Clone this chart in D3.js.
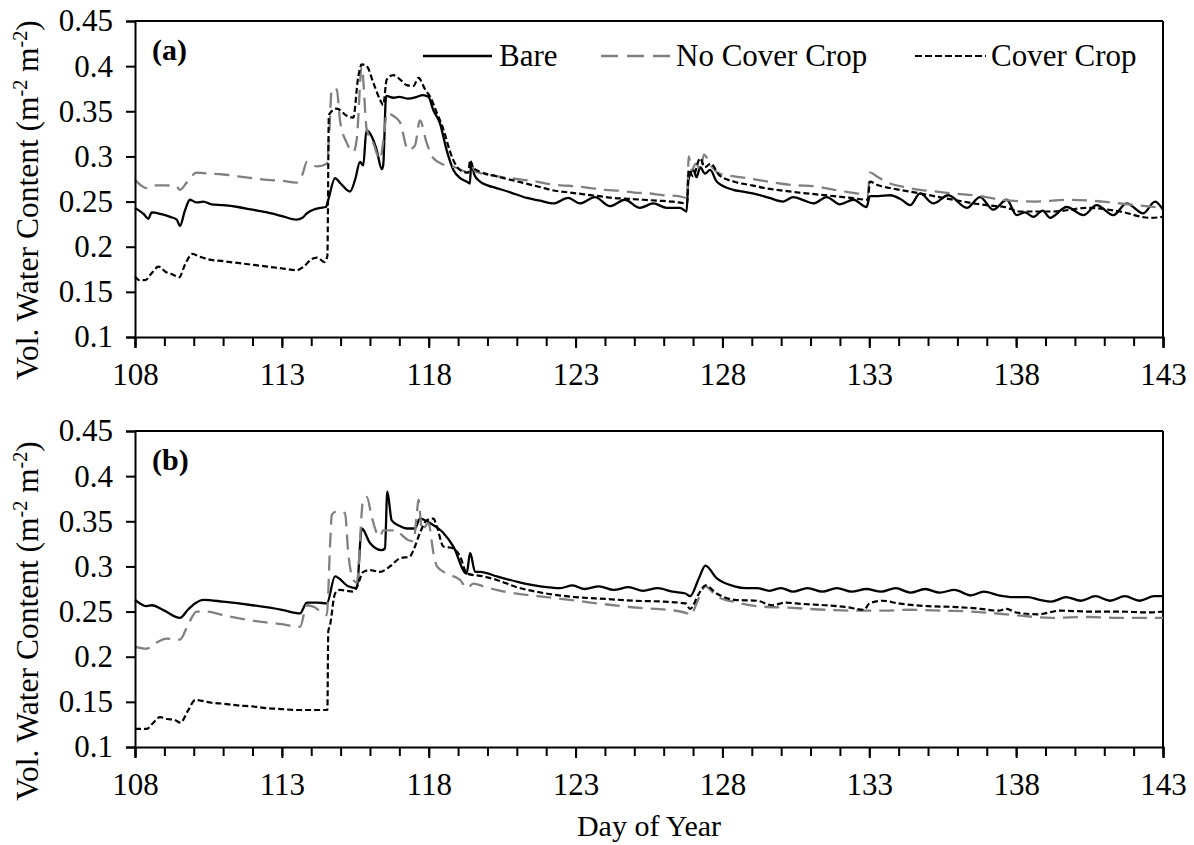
<!DOCTYPE html>
<html>
<head>
<meta charset="utf-8">
<script src="https://cdn.jsdelivr.net/npm/d3@7"></script>
<style>
  html, body { margin: 0; padding: 0; background: #fff; }
  svg { display: block; font-family: "Liberation Serif", "Times New Roman", serif; }
</style>
</head>
<body>
<svg id="chart" width="1194" height="845"></svg>
<script>
// Day-of-year axis and volumetric water content axis
const xTickLabels = [108, 113, 118, 123, 128, 133, 138, 143];
const yTickLabels = ["0.1", "0.15", "0.2", "0.25", "0.3", "0.35", "0.4", "0.45"];
const seriesNames = ["Bare", "No Cover Crop", "Cover Crop"];
const panelLabels = ["(a)", "(b)"];

// Panel (a): [day, water content]
const bareA = [[108.0,0.243],[108.3,0.236],[108.45,0.231],[108.57,0.238],[108.9,0.236],[109.2,0.233],[109.42,0.230],[109.53,0.223],[109.7,0.240],[109.87,0.252],[110.1,0.249],[110.33,0.250],[110.6,0.247],[111.0,0.246],[111.5,0.244],[112.0,0.241],[112.5,0.238],[113.0,0.234],[113.5,0.230],[113.7,0.232],[113.85,0.237],[114.07,0.241],[114.3,0.243],[114.5,0.244],[114.58,0.252],[114.81,0.276],[115.0,0.270],[115.32,0.261],[115.5,0.275],[115.66,0.294],[115.77,0.290],[115.88,0.329],[116.06,0.322],[116.23,0.307],[116.4,0.286],[116.45,0.290],[116.55,0.367],[116.8,0.365],[117.0,0.366],[117.3,0.364],[117.6,0.366],[117.8,0.368],[117.99,0.366],[118.16,0.351],[118.38,0.337],[118.61,0.307],[118.84,0.285],[119.07,0.276],[119.3,0.272],[119.4,0.270],[119.45,0.293],[119.55,0.280],[119.75,0.272],[120.0,0.268],[120.3,0.265],[120.8,0.260],[121.34,0.254],[121.8,0.251],[122.24,0.248],[122.75,0.254],[123.15,0.248],[123.66,0.255],[124.17,0.245],[124.68,0.252],[125.19,0.243],[125.65,0.248],[126.1,0.243],[126.56,0.243],[126.78,0.239],[126.84,0.274],[127.01,0.285],[127.12,0.277],[127.24,0.288],[127.41,0.281],[127.58,0.285],[127.81,0.272],[128.37,0.263],[128.7,0.261],[129.17,0.258],[129.6,0.254],[130.07,0.250],[130.41,0.255],[130.8,0.251],[131.1,0.248],[131.55,0.255],[132.0,0.247],[132.46,0.252],[132.91,0.244],[133.02,0.256],[133.3,0.256],[133.71,0.257],[134.1,0.252],[134.39,0.246],[134.73,0.259],[135.18,0.248],[135.69,0.257],[136.32,0.243],[136.77,0.255],[137.22,0.241],[137.68,0.252],[138.02,0.235],[138.3,0.238],[138.59,0.233],[138.9,0.240],[139.15,0.232],[139.72,0.244],[140.29,0.235],[140.74,0.246],[141.31,0.235],[141.76,0.248],[142.33,0.237],[142.73,0.250],[143.0,0.241]];

const noCoverA = [[108.0,0.274],[108.2,0.268],[108.4,0.265],[108.6,0.268],[109.0,0.268],[109.4,0.267],[109.53,0.263],[109.76,0.271],[110.1,0.282],[110.5,0.281],[111.0,0.280],[111.5,0.278],[112.0,0.276],[112.5,0.274],[113.0,0.273],[113.5,0.271],[113.7,0.280],[113.85,0.294],[114.19,0.289],[114.53,0.292],[114.62,0.330],[114.7,0.375],[114.87,0.374],[114.98,0.340],[115.21,0.315],[115.43,0.305],[115.55,0.319],[115.72,0.399],[115.89,0.330],[116.11,0.315],[116.34,0.297],[116.5,0.330],[116.57,0.348],[116.79,0.345],[117.02,0.338],[117.3,0.307],[117.53,0.312],[117.7,0.340],[117.93,0.315],[118.16,0.298],[118.5,0.291],[118.9,0.288],[119.3,0.283],[119.45,0.290],[119.6,0.283],[120.0,0.280],[120.5,0.277],[121.0,0.275],[121.5,0.273],[122.0,0.270],[122.5,0.268],[123.0,0.267],[123.5,0.265],[124.0,0.263],[124.5,0.262],[125.0,0.260],[125.5,0.259],[126.0,0.257],[126.5,0.256],[126.8,0.254],[126.85,0.300],[126.95,0.285],[127.1,0.292],[127.25,0.285],[127.37,0.302],[127.6,0.290],[127.9,0.281],[128.4,0.278],[128.83,0.276],[129.4,0.273],[129.96,0.270],[130.5,0.268],[131.1,0.267],[131.8,0.263],[132.57,0.259],[132.95,0.257],[133.02,0.282],[133.3,0.277],[133.71,0.270],[134.2,0.266],[134.73,0.263],[135.3,0.261],[135.86,0.259],[136.8,0.256],[137.52,0.252],[138.66,0.250],[139.8,0.252],[140.93,0.250],[142.07,0.246],[143.0,0.243]];

const coverA = [[108.0,0.167],[108.15,0.163],[108.35,0.163],[108.55,0.170],[108.8,0.178],[109.05,0.172],[109.3,0.169],[109.5,0.166],[109.7,0.180],[109.95,0.192],[110.2,0.189],[110.5,0.186],[111.0,0.184],[111.5,0.182],[112.0,0.180],[112.5,0.178],[113.0,0.176],[113.5,0.174],[113.75,0.178],[114.0,0.186],[114.2,0.188],[114.45,0.183],[114.55,0.190],[114.6,0.345],[114.64,0.348],[114.87,0.353],[115.21,0.345],[115.43,0.343],[115.6,0.388],[115.72,0.402],[115.89,0.400],[116.11,0.382],[116.34,0.363],[116.45,0.357],[116.57,0.385],[116.79,0.390],[117.0,0.386],[117.25,0.379],[117.48,0.378],[117.65,0.387],[117.88,0.374],[118.05,0.366],[118.28,0.348],[118.5,0.330],[118.73,0.305],[118.95,0.289],[119.18,0.283],[119.35,0.282],[119.41,0.296],[119.5,0.288],[119.75,0.283],[120.3,0.278],[120.8,0.274],[121.3,0.270],[121.8,0.266],[122.3,0.262],[122.8,0.260],[123.3,0.258],[123.8,0.256],[124.3,0.254],[124.8,0.253],[125.3,0.252],[125.8,0.251],[126.3,0.250],[126.8,0.248],[126.85,0.285],[127.0,0.278],[127.24,0.298],[127.4,0.288],[127.6,0.292],[127.9,0.279],[128.4,0.272],[129.0,0.268],[129.6,0.264],[130.1,0.262],[130.6,0.260],[131.2,0.258],[131.8,0.256],[132.4,0.254],[132.95,0.252],[133.02,0.272],[133.3,0.268],[133.71,0.265],[134.73,0.259],[135.86,0.252],[136.99,0.246],[137.6,0.244],[138.13,0.239],[139.27,0.239],[140.4,0.243],[141.54,0.239],[142.56,0.232],[143.0,0.233]];

// Panel (b): [day, water content]
const bareB = [[108.0,0.263],[108.4,0.256],[108.57,0.257],[109.0,0.251],[109.53,0.243],[109.8,0.252],[110.04,0.259],[110.33,0.263],[111.0,0.261],[112.0,0.257],[113.0,0.252],[113.62,0.248],[113.85,0.260],[114.2,0.260],[114.53,0.259],[114.81,0.289],[115.26,0.278],[115.55,0.276],[115.72,0.342],[116.0,0.326],[116.4,0.318],[116.51,0.320],[116.59,0.383],[116.74,0.351],[117.0,0.345],[117.25,0.342],[117.53,0.342],[117.7,0.353],[118.04,0.348],[118.5,0.337],[118.84,0.322],[119.29,0.292],[119.41,0.315],[119.58,0.294],[119.75,0.294],[120.32,0.289],[121.27,0.281],[121.8,0.278],[122.48,0.276],[122.9,0.279],[123.3,0.275],[123.8,0.278],[124.3,0.274],[124.8,0.277],[125.3,0.273],[125.8,0.276],[126.3,0.272],[126.74,0.270],[126.9,0.267],[127.2,0.287],[127.42,0.301],[127.8,0.287],[128.41,0.278],[128.8,0.276],[129.17,0.276],[129.6,0.273],[130.0,0.276],[130.4,0.272],[130.9,0.276],[131.4,0.272],[131.9,0.276],[132.4,0.272],[132.9,0.275],[133.4,0.272],[133.9,0.276],[134.4,0.271],[134.9,0.275],[135.4,0.271],[135.9,0.274],[136.46,0.268],[136.9,0.272],[137.4,0.268],[137.9,0.266],[138.4,0.266],[138.8,0.263],[139.2,0.261],[139.7,0.266],[140.2,0.262],[140.7,0.267],[141.2,0.262],[141.7,0.267],[142.2,0.262],[142.7,0.267],[143.0,0.267]];

const noCoverB = [[108.0,0.211],[108.4,0.209],[108.7,0.215],[109.08,0.220],[109.53,0.219],[109.8,0.235],[110.1,0.250],[110.44,0.250],[111.0,0.246],[112.0,0.240],[113.0,0.236],[113.62,0.233],[113.85,0.257],[114.1,0.255],[114.4,0.248],[114.53,0.246],[114.65,0.330],[114.7,0.357],[114.87,0.361],[115.15,0.359],[115.26,0.315],[115.43,0.285],[115.55,0.282],[115.77,0.374],[115.89,0.377],[116.06,0.355],[116.23,0.337],[116.34,0.333],[116.45,0.340],[116.68,0.340],[116.91,0.340],[117.08,0.335],[117.31,0.329],[117.48,0.328],[117.6,0.360],[117.65,0.374],[117.77,0.340],[117.99,0.348],[118.16,0.315],[118.28,0.300],[118.62,0.292],[119.07,0.285],[119.3,0.276],[119.52,0.281],[119.86,0.278],[120.3,0.274],[121.0,0.270],[122.0,0.266],[122.79,0.263],[123.5,0.260],[124.3,0.257],[125.2,0.254],[126.13,0.252],[126.8,0.248],[126.9,0.246],[127.2,0.265],[127.42,0.278],[127.8,0.267],[128.5,0.260],[129.17,0.256],[130.39,0.254],[131.5,0.252],[132.5,0.251],[133.5,0.251],[134.34,0.252],[135.5,0.251],[136.5,0.250],[137.98,0.246],[139.2,0.243],[140.5,0.244],[141.5,0.243],[143.0,0.243]];

const coverB = [[108.0,0.120],[108.4,0.120],[108.6,0.126],[108.85,0.133],[109.1,0.131],[109.35,0.130],[109.55,0.127],[109.8,0.140],[110.05,0.152],[110.3,0.151],[110.6,0.149],[111.0,0.148],[111.5,0.146],[112.0,0.145],[112.5,0.143],[113.0,0.142],[113.5,0.141],[114.0,0.141],[114.55,0.141],[114.58,0.228],[114.64,0.235],[114.81,0.270],[114.98,0.274],[115.43,0.272],[115.55,0.277],[115.77,0.294],[116.0,0.296],[116.34,0.294],[116.68,0.300],[117.02,0.309],[117.36,0.311],[117.48,0.318],[117.7,0.337],[117.93,0.351],[118.16,0.353],[118.28,0.344],[118.5,0.322],[118.84,0.320],[119.07,0.311],[119.3,0.292],[119.86,0.289],[120.32,0.285],[121.0,0.277],[122.0,0.270],[123.0,0.266],[124.0,0.264],[125.0,0.262],[126.0,0.261],[126.74,0.259],[126.9,0.253],[127.2,0.270],[127.42,0.279],[127.8,0.270],[128.41,0.263],[129.17,0.262],[129.7,0.257],[130.16,0.260],[130.5,0.259],[131.5,0.257],[132.2,0.255],[132.83,0.252],[133.0,0.259],[133.44,0.262],[134.0,0.259],[135.0,0.256],[136.0,0.255],[136.8,0.253],[137.4,0.251],[137.68,0.253],[138.0,0.249],[138.74,0.247],[139.5,0.251],[140.5,0.250],[141.5,0.250],[142.5,0.249],[143.0,0.250]];

// Line styles per treatment
const styles = [
  { stroke: "#000", dash: null, width: 2.3 },
  { stroke: "#808080", dash: "15,8", width: 2.3 },
  { stroke: "#000", dash: "6,3", width: 2.2 }
];

const svg = d3.select("#chart");
const left = 135, right = 1163;
const x = d3.scaleLinear().domain([108, 143]).range([left, right]);

const panels = [
  { top: 21, bottom: 337, label: panelLabels[0], series: [bareA, noCoverA, coverA], legend: true, titleShift: 21 },
  { top: 431, bottom: 747, label: panelLabels[1], series: [bareB, noCoverB, coverB], legend: false, titleShift: 32 }
];

const dayTicks = d3.range(108, 144, 1);
const yTicks = yTickLabels.map(Number);

panels.forEach(p => {
  const y = d3.scaleLinear().domain([0.1, 0.45]).range([p.bottom, p.top]);
  const g = svg.append("g");

  // Frame: top and right edges
  g.append("line").attr("x1", left).attr("x2", right).attr("y1", p.top).attr("y2", p.top)
    .attr("stroke", "#000").attr("stroke-width", 2);
  g.append("line").attr("x1", right).attr("x2", right).attr("y1", p.top).attr("y2", p.bottom)
    .attr("stroke", "#000").attr("stroke-width", 2);

  // Series lines
  const line = d3.line().curve(d3.curveMonotoneX).x(d => x(d[0])).y(d => y(d[1]));
  p.series.forEach((data, i) => {
    const s = styles[i];
    g.append("path").datum(data)
      .attr("d", line)
      .attr("fill", "none")
      .attr("stroke", s.stroke)
      .attr("stroke-width", s.width)
      .attr("stroke-linejoin", "round")
      .attr("stroke-dasharray", s.dash);
  });

  // Minor daily ticks
  const minor = g.append("g").attr("transform", `translate(0,${p.bottom})`)
    .call(d3.axisBottom(x).tickValues(dayTicks).tickSize(9).tickFormat(""));
  minor.select(".domain").remove();
  minor.selectAll(".tick line").attr("stroke", "#000").attr("stroke-width", 2);

  // Major ticks with labels
  const xAxis = g.append("g").attr("transform", `translate(0,${p.bottom})`)
    .call(d3.axisBottom(x).tickValues(xTickLabels).tickSize(11).tickPadding(15).tickFormat(d3.format("d")));
  xAxis.select(".domain").attr("stroke", "#000").attr("stroke-width", 2);
  xAxis.selectAll(".tick line").attr("stroke", "#000").attr("stroke-width", 2);
  xAxis.selectAll(".tick text").attr("font-size", 31).attr("fill", "#000")
    .attr("font-family", "Liberation Serif");

  // Y axis
  const yAxis = g.append("g").attr("transform", `translate(${left},0)`)
    .call(d3.axisLeft(y).tickValues(yTicks).tickSize(9).tickPadding(13)
      .tickFormat((d, i) => yTickLabels[i]));
  yAxis.select(".domain").attr("stroke", "#000").attr("stroke-width", 2);
  yAxis.selectAll(".tick line").attr("stroke", "#000").attr("stroke-width", 2);
  yAxis.selectAll(".tick text").attr("font-size", 31).attr("fill", "#000")
    .attr("font-family", "Liberation Serif");

  // Panel label
  g.append("text").attr("x", 152).attr("y", p.top + 39)
    .attr("font-size", 30).attr("font-weight", "bold").text(p.label);

  // Y axis title
  const yt = g.append("text")
    .attr("transform", `translate(38,${(p.top + p.bottom) / 2 + p.titleShift}) rotate(-90)`)
    .attr("text-anchor", "middle")
    .attr("font-size", 31.5);
  yt.append("tspan").text("Vol. Water Content (m");
  yt.append("tspan").attr("baseline-shift", "super").attr("font-size", 20).text("-2");
  yt.append("tspan").text(" m");
  yt.append("tspan").attr("baseline-shift", "super").attr("font-size", 20).text("-2");
  yt.append("tspan").text(")");

  // Legend
  if (p.legend) {
    const items = [
      { x1: 423, x2: 492, tx: 499 },
      { x1: 601, x2: 671, tx: 676 },
      { x1: 915, x2: 986, tx: 991 }
    ];
    items.forEach((it, i) => {
      const s = styles[i];
      g.append("line").attr("x1", it.x1).attr("x2", it.x2).attr("y1", 56).attr("y2", 56)
        .attr("stroke", s.stroke).attr("stroke-width", s.width)
        .attr("stroke-dasharray", i === 1 ? "17,9" : (i === 2 ? "7,3" : null));
      g.append("text").attr("x", it.tx).attr("y", 66).attr("font-size", 31).text(seriesNames[i]);
    });
  }
});

// X axis title
svg.append("text").attr("x", 649).attr("y", 836).attr("text-anchor", "middle")
  .attr("font-size", 30).text("Day of Year");
</script>
</body>
</html>
